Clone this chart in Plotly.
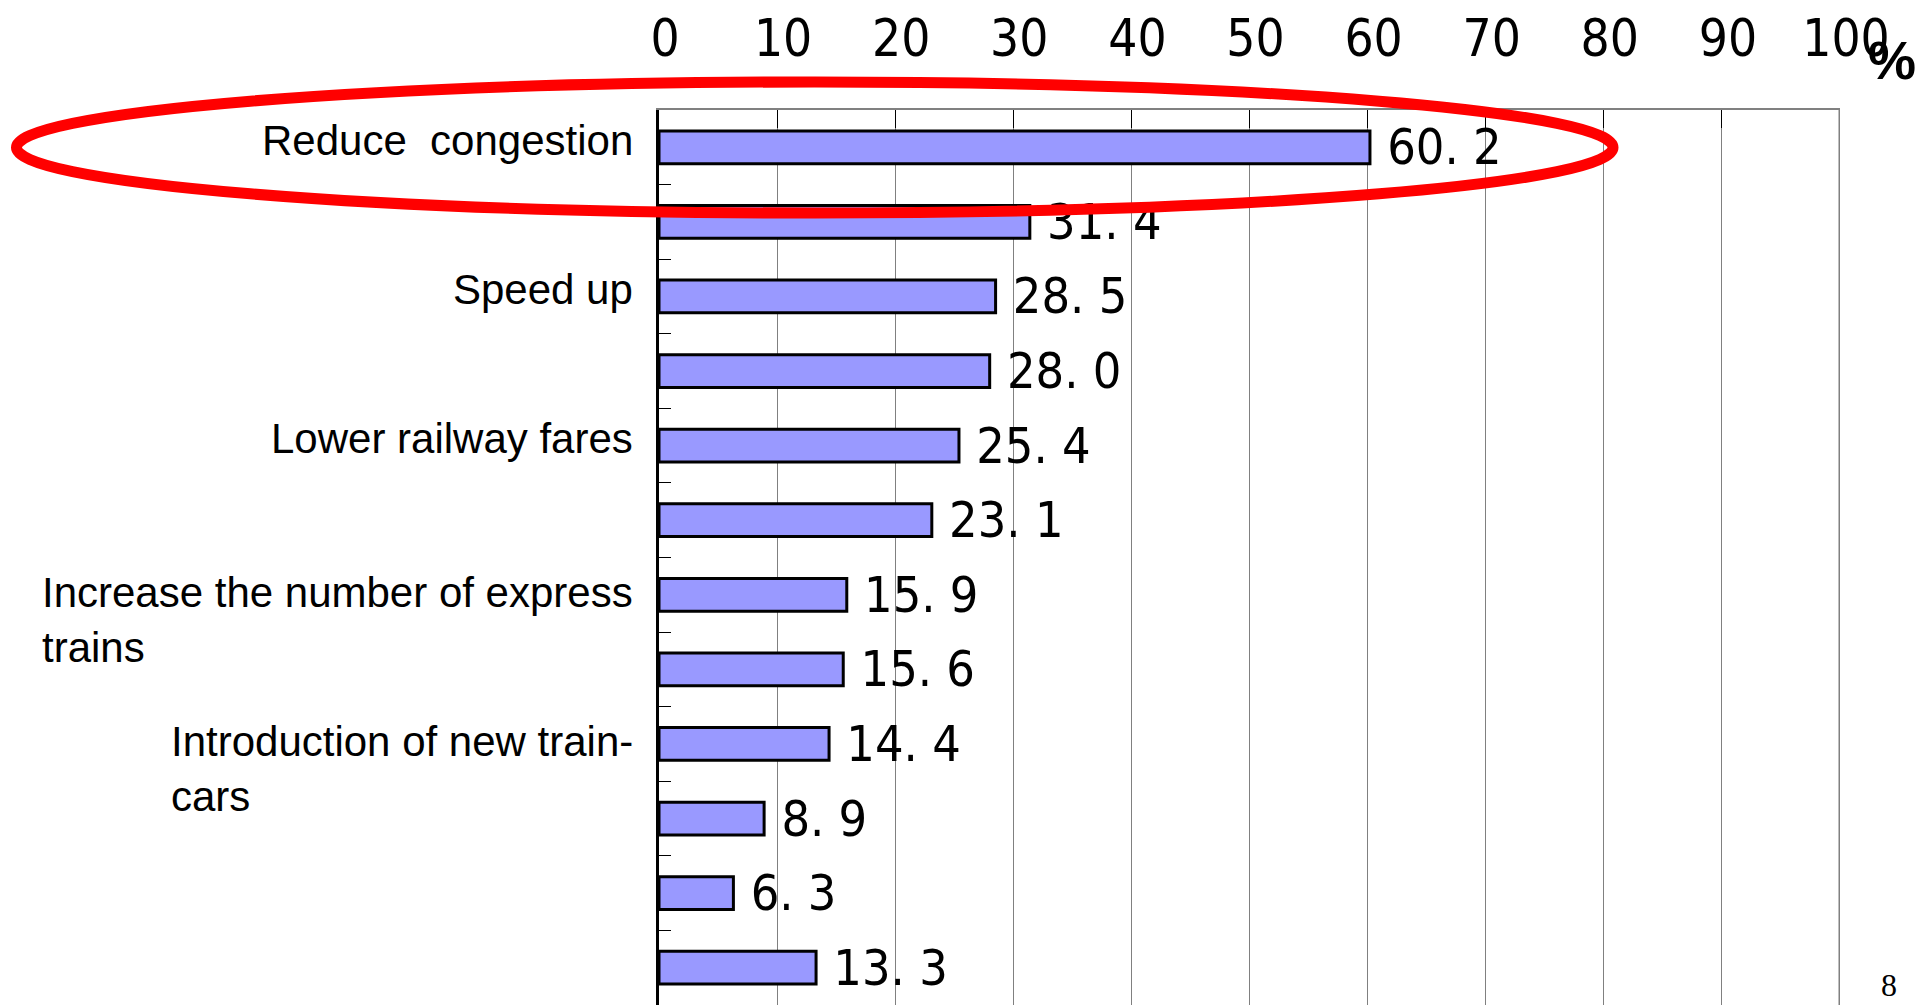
import plotly.graph_objects as go

# ---- data ----
categories = [
    "Reduce\u00a0 congestion",
    "",
    "Speed up",
    "",
    "Lower railway fares",
    "",
    "Increase the number of express<br>trains",
    "",
    "Introduction of new train-<br>cars",
    "",
    "",
    "",
]
values = [60.2, 31.4, 28.5, 28.0, 25.4, 23.1, 15.9, 15.6, 14.4, 8.9, 6.3, 13.3]
x_tick_values = [0, 10, 20, 30, 40, 50, 60, 70, 80, 90, 100]
x_tick_labels = [str(v) for v in x_tick_values]

positions = list(range(len(values)))
bar_text = ["\u00a0" + f"{v:.1f}".replace(".", ". ") for v in values]

NARROW = "Liberation Sans Narrow, DejaVu Sans Condensed, Arial Narrow, sans-serif"
SANS = "Liberation Sans, Arial, sans-serif"

W, H = 1921, 1005
L, R, T, B = 659, 81, 110, 0
PW, PH = W - L - R, H - T - B

fig = go.Figure()
fig.add_trace(go.Bar(
    orientation="h",
    x=values,
    y=positions,
    width=0.44,
    marker=dict(color="#9999FF", line=dict(color="black", width=3)),
    text=bar_text,
    textposition="outside",
    constraintext="none",
    textfont=dict(family=NARROW, size=50, color="black"),
    cliponaxis=False,
    hoverinfo="skip",
))

annotations = []
for i, lab in enumerate(categories):
    if not lab:
        continue
    multi = "<br>" in lab
    annotations.append(dict(
        xref="paper", x=0, xanchor="right", xshift=-24,
        yref="y", y=i, yanchor="middle",
        yshift=-25 if multi else 7,
        text=lab, align="left", showarrow=False,
        font=dict(family=SANS, size=42, color="black"),
    ))

annotations.append(dict(
    xref="paper", x=1, xshift=52, yref="paper", y=1, yshift=50,
    text="%", showarrow=False, xanchor="center", yanchor="middle",
    font=dict(family=SANS, size=54, color="black", weight="bold"),
))
annotations.append(dict(
    xref="paper", x=1, xshift=49, yref="paper", y=0, yshift=20,
    text="8", showarrow=False, xanchor="center", yanchor="middle",
    font=dict(family="Liberation Serif, Times New Roman, serif", size=32, color="black"),
))

shapes = [
    dict(type="line", xref="x", x0=100, x1=100, yref="paper", y0=0, y1=1,
         line=dict(color="#808080", width=3), layer="above"),
    dict(type="circle", xref="paper", yref="paper",
         x0=(16.5 - L) / PW, x1=(1613 - L) / PW,
         y0=(H - 213) / PH, y1=(H - 82) / PH,
         line=dict(color="#FF0000", width=11), fillcolor="rgba(0,0,0,0)",
         layer="above"),
]

fig.update_layout(
    template="none",
    width=W, height=H,
    margin=dict(l=L, r=R, t=T, b=B, pad=0, autoexpand=False),
    paper_bgcolor="white", plot_bgcolor="white",
    showlegend=False,
    annotations=annotations,
    shapes=shapes,
    xaxis=dict(
        side="top", range=[0, 100], automargin=False,
        tickmode="array", tickvals=x_tick_values, ticktext=x_tick_labels,
        tickfont=dict(family=NARROW, size=51, color="black"),
        ticks="inside", ticklen=18, tickcolor="black", tickwidth=1,
        ticklabelstandoff=32, ticklabelshift=6,
        showgrid=True, gridcolor="#808080", gridwidth=1,
        showline=True, linecolor="#808080", linewidth=2,
        zeroline=False, fixedrange=True,
    ),
    yaxis=dict(
        range=[len(values) - 0.5, -0.5], automargin=False,
        tickmode="array", tickvals=[p + 0.5 for p in positions[:-1]],
        showticklabels=False,
        ticks="inside", ticklen=12, tickcolor="black", tickwidth=1,
        showgrid=False, zeroline=False,
        showline=True, linecolor="black", linewidth=2.5,
        fixedrange=True,
    ),
)

fig.write_html("out.html")
